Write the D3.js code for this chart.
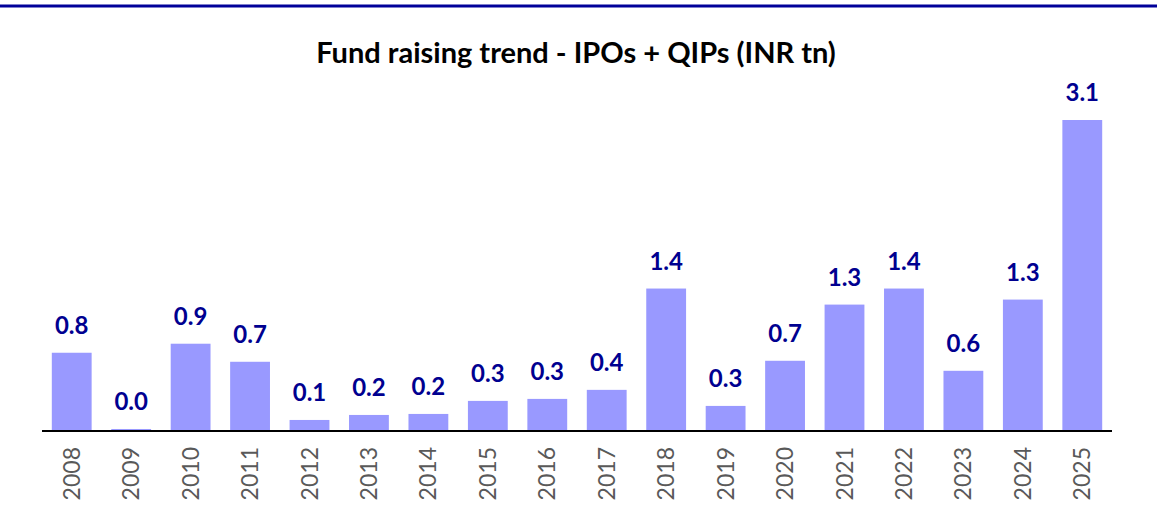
<!DOCTYPE html>
<html><head><meta charset="utf-8">
<script src="https://cdn.jsdelivr.net/npm/d3@7"></script>
<style>body{margin:0;background:#fff;} svg{display:block;}</style>
</head><body>
<script>
const years = ["2008","2009","2010","2011","2012","2013","2014","2015","2016","2017","2018","2019","2020","2021","2022","2023","2024","2025"];
const values = [0.78,0.02,0.87,0.69,0.11,0.16,0.17,0.30,0.32,0.41,1.42,0.25,0.70,1.26,1.42,0.60,1.31,3.10];
const title = "Fund raising trend - IPOs + QIPs (INR tn)";

const W = 1162, H = 531;
const svg = d3.select("body").append("svg").attr("width", W).attr("height", H);
const font = "Lato, 'Open Sans', sans-serif";

svg.append("line").attr("x1", 0).attr("x2", 1157).attr("y1", 6).attr("y2", 6)
  .attr("stroke", "#000099").attr("stroke-width", 3);

svg.append("text").attr("x", 576).attr("y", 63).attr("text-anchor", "middle")
  .attr("font-family", font).attr("font-weight", "bold").attr("font-size", 29)
  .attr("fill", "#000").text(title);

const x = d3.scaleBand().domain(years).range([42, 1112]).paddingInner(0.33).paddingOuter(0.165);
const y = d3.scaleLinear().domain([0, 3.1]).range([431, 120]);

svg.selectAll("rect.bar").data(years).enter().append("rect")
  .attr("class", "bar")
  .attr("x", d => x(d)).attr("width", x.bandwidth())
  .attr("y", (d, i) => y(values[i])).attr("height", (d, i) => y(0) - y(values[i]))
  .attr("fill", "#9999FF");

svg.selectAll("text.val").data(years).enter().append("text")
  .attr("class", "val")
  .attr("x", d => x(d) + x.bandwidth() / 2)
  .attr("y", (d, i) => y(values[i]) - 19)
  .attr("text-anchor", "middle")
  .attr("font-family", font).attr("font-weight", "bold").attr("font-size", 24)
  .attr("fill", "#000090")
  .text((d, i) => values[i].toFixed(1));

const axis = d3.axisBottom(x).tickSize(0).tickPadding(0);
const g = svg.append("g").attr("transform", `translate(0,${y(0)})`).call(axis);
g.select(".domain").attr("stroke", "#000").attr("stroke-width", 2).attr("d", "M42,0H1112");
g.selectAll(".tick text")
  .attr("font-family", font).attr("font-size", 23).attr("fill", "#595959")
  .attr("text-anchor", "end").attr("dy", "0.35em")
  .attr("transform", "translate(0,16) rotate(-90)")
  .attr("x", 0).attr("y", 0);
</script>
</body></html>
